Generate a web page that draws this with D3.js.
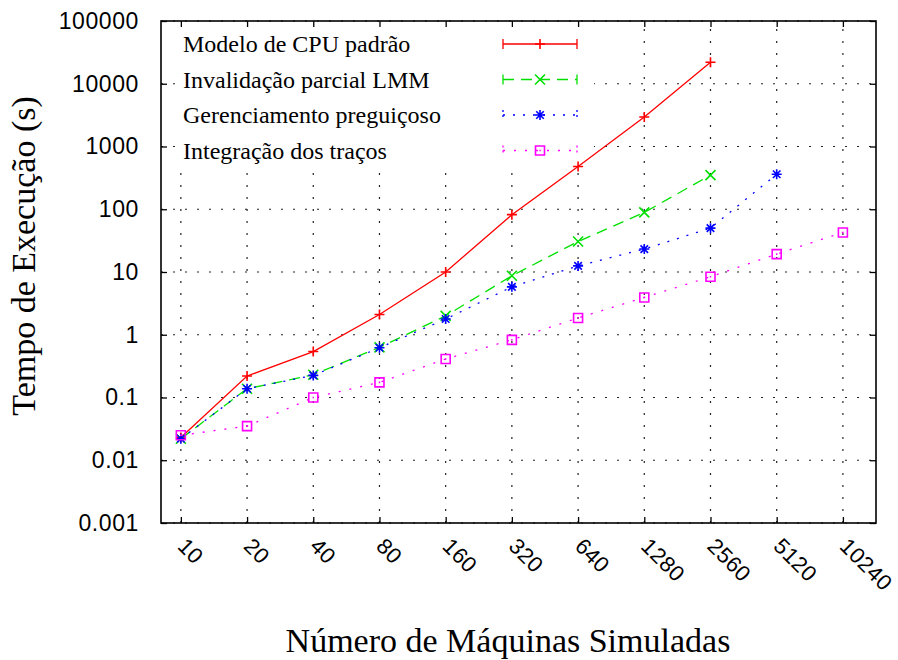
<!DOCTYPE html>
<html>
<head>
<meta charset="utf-8">
<script src="https://cdn.jsdelivr.net/npm/d3@7"></script>
<style>
  html, body { margin: 0; padding: 0; background: #fff; }
  svg { display: block; }
</style>
</head>
<body>
<svg id="chart" width="898" height="660"></svg>
<script>
// ---- data ----
const categories = ["10", "20", "40", "80", "160", "320", "640", "1280", "2560", "5120", "10240"];
const seriesNames = ["Modelo de CPU padrão", "Invalidação parcial LMM", "Gerenciamento preguiçoso", "Integração dos traços"];
const cpuPadrao = [0.023, 0.22, 0.54, 2.1, 10, 82, 480, 2960, 22000];
const invalidacaoLMM = [0.022, 0.138, 0.23, 0.63, 2.0, 8.7, 30.6, 89, 350];
const gerenciamentoPreguicoso = [0.022, 0.138, 0.225, 0.62, 1.78, 5.8, 12.5, 23.2, 50, 362];
const integracaoTracos = [0.025, 0.035, 0.1, 0.174, 0.41, 0.83, 1.85, 3.93, 8.4, 19.3, 42.7];
const yTickValues = [0.001, 0.01, 0.1, 1, 10, 100, 1000, 10000, 100000];
const yTickLabels = ["0.001", "0.01", "0.1", "1", "10", "100", "1000", "10000", "100000"];
const xTitle = "Número de Máquinas Simuladas";
const yTitle = "Tempo de Execução (s)";

const seriesValues = [cpuPadrao, invalidacaoLMM, gerenciamentoPreguicoso, integracaoTracos];
const seriesColors = ["#ff0000", "#00e000", "#0000ff", "#ff00ff"];
const seriesDash = [null, "11,7", "2,8", "2,9"];
const seriesMarker = ["plus", "cross", "star", "box"];

// ---- layout ----
const svg = d3.select("#chart");
const L = 161, R = 876, T = 21, B = 523;
const x = d3.scaleLinear().domain([-0.3, 10.5]).range([L, R]);
const y = d3.scaleLog().domain([0.001, 100000]).range([B, T]);

const serif = "'Liberation Serif', 'Times New Roman', serif";
const sans = "'Liberation Sans', Arial, Helvetica, sans-serif";

// ---- grid ----
const grid = svg.append("g");
grid.selectAll("line.hg").data(yTickValues).join("line")
  .attr("x1", L).attr("x2", R)
  .attr("y1", d => y(d)).attr("y2", d => y(d))
  .attr("stroke", "#222").attr("stroke-width", 1.2).attr("stroke-dasharray", "2,10");
grid.selectAll("line.vg").data(categories).join("line")
  .attr("x1", (d, i) => x(i)).attr("x2", (d, i) => x(i))
  .attr("y1", B).attr("y2", T)
  .attr("stroke", "#222").attr("stroke-width", 1.2).attr("stroke-dasharray", "2,10");

// legend mask (opaque key)
svg.append("rect").attr("x", 176).attr("y", 24).attr("width", 418).attr("height", 142).attr("fill", "#fff");

// ---- axes (inward ticks, mirrored) ----
const tickLen = 6;
const yAxisL = d3.axisLeft(y).tickValues(yTickValues).tickSize(-tickLen).tickFormat((d, i) => yTickLabels[i]).tickPadding(22);
const gy = svg.append("g").attr("transform", `translate(${L},0)`).call(yAxisL);
gy.select(".domain").remove();
gy.selectAll("line").attr("stroke", "#000").attr("stroke-width", 1.3);
gy.selectAll("text").attr("font-family", sans).attr("font-size", 23).attr("fill", "#000").attr("letter-spacing", 0.6);

const yAxisR = d3.axisRight(y).tickValues(yTickValues).tickSize(-tickLen).tickFormat("");
const gyr = svg.append("g").attr("transform", `translate(${R},0)`).call(yAxisR);
gyr.select(".domain").remove();
gyr.selectAll("line").attr("stroke", "#000").attr("stroke-width", 1.3);

const xAxisB = d3.axisBottom(x).tickValues(d3.range(categories.length)).tickSize(-tickLen).tickFormat("");
const gx = svg.append("g").attr("transform", `translate(0,${B})`).call(xAxisB);
gx.select(".domain").remove();
gx.selectAll("line").attr("stroke", "#000").attr("stroke-width", 1.3);

const xAxisT = d3.axisTop(x).tickValues(d3.range(categories.length)).tickSize(-tickLen).tickFormat("");
const gxt = svg.append("g").attr("transform", `translate(0,${T})`).call(xAxisT);
gxt.select(".domain").remove();
gxt.selectAll("line").attr("stroke", "#000").attr("stroke-width", 1.3);

// rotated x tick labels
svg.append("g").selectAll("text").data(categories).join("text")
  .attr("transform", (d, i) => `translate(${x(i) + 1},${B + 19}) rotate(45)`)
  .attr("dy", "0.35em")
  .attr("text-anchor", "start")
  .attr("font-family", sans).attr("font-size", 22).attr("letter-spacing", 0.4)
  .text(d => d);

// frame
svg.append("rect").attr("x", L).attr("y", T).attr("width", R - L).attr("height", B - T)
  .attr("fill", "none").attr("stroke", "#000").attr("stroke-width", 1.6);

// ---- markers ----
function markerPath(type, s) {
  switch (type) {
    case "plus": return `M${-s},0H${s}M0,${-s}V${s}`;
    case "cross": return `M${-s},${-s}L${s},${s}M${-s},${s}L${s},${-s}`;
    case "star": return `M${-s},0H${s}M0,${-s}V${s}M${-s*0.75},${-s*0.75}L${s*0.75},${s*0.75}M${-s*0.75},${s*0.75}L${s*0.75},${-s*0.75}`;
    case "box": return `M${-s},${-s}H${s}V${s}H${-s}Z M-0.7,0H0.7`;
  }
}

// ---- series ----
const line = d3.line().x(d => x(d[0])).y(d => y(d[1]));
seriesValues.forEach((vals, k) => {
  const pts = vals.map((v, i) => [i, v]);
  svg.append("path").datum(pts)
    .attr("d", line).attr("fill", "none")
    .attr("stroke", seriesColors[k]).attr("stroke-width", 1.3)
    .attr("stroke-dasharray", seriesDash[k]);
  svg.append("g").selectAll("path").data(pts).join("path")
    .attr("transform", d => `translate(${x(d[0])},${y(d[1])})`)
    .attr("d", markerPath(seriesMarker[k], seriesMarker[k] === "box" ? 4.5 : 5))
    .attr("fill", "none").attr("stroke", seriesColors[k]).attr("stroke-width", 1.6);
});

// ---- legend ----
const legendRowY = [44, 79.5, 115, 150.5];
const lg = svg.append("g");
seriesNames.forEach((name, k) => {
  const yy = legendRowY[k];
  lg.append("text").attr("x", 183).attr("y", yy).attr("dy", "0.35em")
    .attr("font-family", serif).attr("font-size", 24).attr("fill", "#000").text(name);
  lg.append("line").attr("x1", 503).attr("x2", 577).attr("y1", yy).attr("y2", yy)
    .attr("stroke", seriesColors[k]).attr("stroke-width", 1.3).attr("stroke-dasharray", seriesDash[k]);
  lg.append("path").attr("d", `M503,${yy - 5}V${yy + 5}M577,${yy - 5}V${yy + 5}`)
    .attr("stroke", seriesColors[k]).attr("stroke-width", 1.3)
    .attr("stroke-dasharray", k >= 2 ? "2,3" : null);
  lg.append("path").attr("transform", `translate(540,${yy})`)
    .attr("d", markerPath(seriesMarker[k], seriesMarker[k] === "box" ? 4.5 : 5))
    .attr("fill", "none").attr("stroke", seriesColors[k]).attr("stroke-width", 1.6);
});

// ---- titles ----
svg.append("text").attr("x", 508).attr("y", 652).attr("text-anchor", "middle")
  .attr("font-family", serif).attr("font-size", 34).attr("fill", "#000").text(xTitle);
svg.append("text").attr("transform", "translate(35,256) rotate(-90)").attr("text-anchor", "middle")
  .attr("font-family", serif).attr("font-size", 34).attr("fill", "#000").text(yTitle);
</script>
</body>
</html>
